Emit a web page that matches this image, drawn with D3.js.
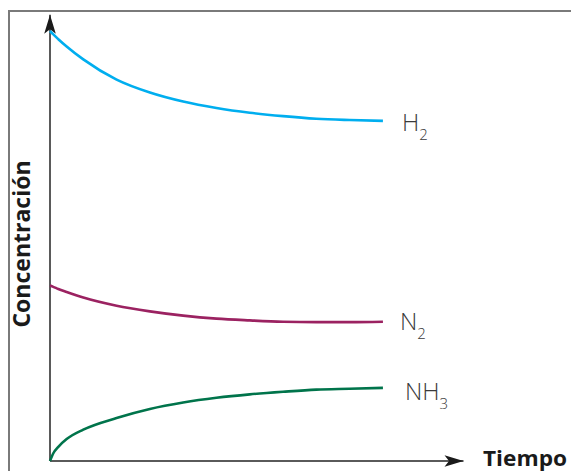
<!DOCTYPE html>
<html>
<head>
<meta charset="utf-8">
<script src="https://cdn.jsdelivr.net/npm/d3@7"></script>
<style>
  html, body { margin: 0; padding: 0; background: #fff; }
  svg { display: block; }
</style>
</head>
<body>
<svg id="chart" width="571" height="471"></svg>
<script>
// ---- data ----
const times = [0, 0.1, 0.25, 0.5, 1, 2, 3, 4, 5, 6, 7, 8, 9, 10];
const h2Values  = [100, 99.2, 98.1, 96.4, 93.4, 88.7, 85.7, 83.6, 82.1, 81.0, 80.2, 79.6, 79.3, 79.1];
const n2Values  = [40.8, 40.5, 40.0, 39.3, 38.0, 36.1, 34.8, 33.8, 33.1, 32.7, 32.4, 32.3, 32.3, 32.4];
const nh3Values = [0, 1.8, 3.3, 5.1, 7.3, 10.0, 12.1, 13.6, 14.7, 15.5, 16.1, 16.6, 16.8, 17.0];
const seriesNames = ["H", "N", "NH"];
const seriesSubs = ["2", "2", "3"];
const seriesColors = ["#00aeef", "#9b2261", "#00744b"];
const xAxisTitle = "Tiempo";
const yAxisTitle = "Concentración";
const xMax = 12.45, yMax = 104;

const svg = d3.select("#chart");

// frame (top and left border)
svg.append("path")
  .attr("d", "M9,471 V11 H571")
  .attr("fill", "none")
  .attr("stroke", "#7a7a7a")
  .attr("stroke-width", 2);

const x = d3.scaleLinear().domain([0, xMax]).range([50, 464.5]);
const y = d3.scaleLinear().domain([0, yMax]).range([461, 13.8]);

const defs = svg.append("defs");
function arrow(id) {
  defs.append("marker")
    .attr("id", id)
    .attr("markerUnits", "userSpaceOnUse")
    .attr("viewBox", "-20 -7 22 14")
    .attr("refX", 0).attr("refY", 0)
    .attr("markerWidth", 22).attr("markerHeight", 14)
    .attr("orient", "auto")
    .append("path")
    .attr("d", "M0,0 L-19,-5.8 L-14.5,0 L-19,5.8 Z")
    .attr("fill", "#1a1a1a");
}
arrow("arrowY");
arrow("arrowX");

// axes (no ticks)
const gx = svg.append("g").attr("transform", `translate(0,${y(0)})`)
  .call(d3.axisBottom(x).tickValues([]).tickSizeOuter(0));
const gy = svg.append("g").attr("transform", `translate(${x(0)},0)`)
  .call(d3.axisLeft(y).tickValues([]).tickSizeOuter(0));
gx.select(".domain").attr("stroke", "#5a5a5a").attr("stroke-width", 2)
  .attr("d", `M${x(0)},0H${x(xMax) - 1}`).attr("marker-end", "url(#arrowX)");
gy.select(".domain").attr("stroke", "#5a5a5a").attr("stroke-width", 2)
  .attr("d", `M0,${y(0)}V${y(yMax) + 1}`).attr("marker-end", "url(#arrowY)");

// curves
const line = d3.line()
  .x(d => x(d[0]))
  .y(d => y(d[1]))
  .curve(d3.curveMonotoneX);

const allSeries = [h2Values, n2Values, nh3Values];
const labelDx = [19, 17, 22];
const labelDy = [10, 8, 12];
allSeries.forEach((vals, i) => {
  const pts = times.map((t, j) => [t, vals[j]]);
  svg.append("path")
    .datum(pts)
    .attr("d", line)
    .attr("fill", "none")
    .attr("stroke", seriesColors[i])
    .attr("stroke-width", 2.6)
    .attr("stroke-linecap", "butt");
  const last = pts[pts.length - 1];
  const t = svg.append("text")
    .attr("x", x(last[0]) + labelDx[i])
    .attr("y", y(last[1]) + labelDy[i])
    .attr("font-family", "'Open Sans', sans-serif")
    .attr("font-weight", 300)
    .attr("font-size", 24)
    .attr("fill", "#3a3a3a");
  t.append("tspan").text(seriesNames[i]);
  t.append("tspan").attr("dy", 9).attr("font-size", 15).text(seriesSubs[i]);
});

// axis titles
svg.append("text")
  .attr("x", 483).attr("y", 466)
  .attr("font-family", "'Open Sans', sans-serif")
  .attr("font-weight", 700)
  .attr("font-size", 22)
  .attr("textLength", 84)
  .attr("lengthAdjust", "spacingAndGlyphs")
  .attr("fill", "#1a1a1a")
  .text(xAxisTitle);

svg.append("text")
  .attr("transform", "translate(30,244) rotate(-90)")
  .attr("text-anchor", "middle")
  .attr("font-family", "'Open Sans', sans-serif")
  .attr("font-weight", 700)
  .attr("font-size", 23)
  .attr("fill", "#1a1a1a")
  .text(yAxisTitle);
</script>
</body>
</html>
